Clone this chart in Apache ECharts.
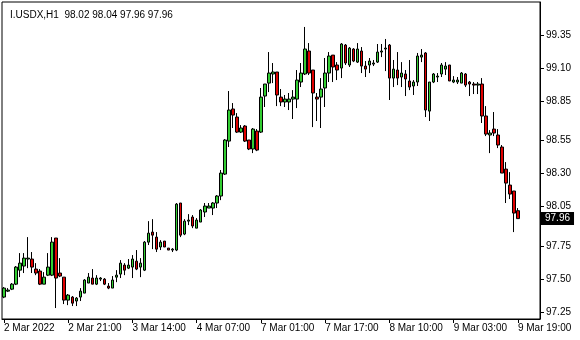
<!DOCTYPE html>
<html><head><meta charset="utf-8">
<script src="https://cdn.jsdelivr.net/npm/echarts@6/dist/echarts.min.js"></script>
<style>html,body{margin:0;padding:0;background:#fff}#c{width:580px;height:340px}</style>
</head><body><div id="c"></div>
<script>
const titleText = "I.USDX,H1  98.02 98.04 97.96 97.96";
const timeLabels = ["2 Mar 2022","2 Mar 21:00","3 Mar 14:00","4 Mar 07:00","7 Mar 01:00","7 Mar 17:00","8 Mar 10:00","9 Mar 03:00","9 Mar 19:00"];
const priceTicks = [97.25,97.50,97.75,98.05,98.30,98.55,98.85,99.10,99.35];
const lastPrice = 97.96;

const open = [97.366,97.411,97.426,97.464,97.570,97.601,97.654,97.654,97.578,97.563,
97.464,97.532,97.532,97.813,97.548,97.517,97.343,97.366,97.336,97.366,
97.396,97.472,97.510,97.464,97.502,97.502,97.449,97.434,97.517,97.540,
97.608,97.585,97.593,97.638,97.593,97.570,97.782,97.858,97.820,97.745,
97.790,97.737,97.722,97.722,98.078,97.843,97.941,97.972,97.888,97.934,
98.010,98.040,98.040,98.078,98.131,98.297,98.547,98.790,98.729,98.615,
98.661,98.555,98.487,98.623,98.615,98.888,98.986,99.055,99.070,98.880,
98.843,98.843,98.865,98.865,98.994,99.055,99.229,99.085,98.880,98.880,
98.949,99.062,99.198,99.123,99.100,99.274,99.123,99.244,99.145,99.229,
99.115,99.123,99.130,99.145,99.221,99.244,99.274,99.024,99.085,99.032,
99.055,99.002,98.964,98.994,99.183,99.214,98.774,98.994,99.032,99.055,
99.092,99.123,98.994,98.994,98.986,99.055,98.994,98.979,98.971,98.979,
98.737,98.593,98.638,98.593,98.502,98.335,98.214,98.169,98.02];
const high = [97.442,97.434,97.472,97.601,97.699,97.699,97.820,97.707,97.623,97.578,
97.555,97.699,97.820,97.813,97.661,97.517,97.389,97.374,97.366,97.434,
97.502,97.548,97.578,97.532,97.517,97.510,97.472,97.525,97.570,97.646,
97.623,97.654,97.684,97.722,97.661,97.790,97.941,97.956,97.858,97.797,
97.790,97.737,97.737,98.078,98.078,97.956,97.994,97.987,97.964,98.032,
98.078,98.078,98.085,98.138,98.328,98.562,98.926,98.835,98.759,98.668,
98.668,98.555,98.646,98.638,98.949,98.979,99.221,99.138,99.070,98.941,
98.896,98.911,98.933,99.085,99.138,99.411,99.289,99.085,98.911,99.024,
99.176,99.221,99.198,99.145,99.289,99.282,99.259,99.251,99.289,99.259,
99.153,99.176,99.161,99.282,99.282,99.320,99.282,99.161,99.221,99.145,
99.085,99.161,99.009,99.214,99.244,99.221,98.994,99.062,99.062,99.138,
99.145,99.123,99.039,99.032,99.070,99.062,99.002,98.994,98.994,99.024,
98.812,98.630,98.767,98.638,98.517,98.388,98.312,98.169,98.04];
const low = [97.358,97.404,97.419,97.457,97.517,97.548,97.585,97.548,97.532,97.457,
97.464,97.525,97.525,97.283,97.517,97.313,97.305,97.298,97.298,97.336,
97.396,97.472,97.464,97.457,97.487,97.457,97.426,97.434,97.479,97.510,
97.532,97.578,97.510,97.570,97.517,97.563,97.760,97.729,97.707,97.722,
97.745,97.722,97.707,97.714,97.820,97.835,97.911,97.888,97.888,97.934,
97.972,98.040,97.987,98.040,98.100,98.290,98.502,98.646,98.608,98.608,
98.540,98.479,98.456,98.471,98.608,98.805,98.918,98.986,98.812,98.812,
98.805,98.782,98.714,98.797,98.956,99.047,99.047,98.653,98.699,98.646,
98.805,98.994,98.994,99.009,99.024,99.123,99.108,99.145,99.138,99.062,
99.032,99.062,99.115,99.138,99.183,99.077,98.858,98.956,98.971,98.956,
98.888,98.933,98.896,98.964,99.145,98.729,98.699,98.986,98.994,99.032,
99.047,99.002,98.986,98.979,98.986,98.956,98.888,98.903,98.903,98.684,
98.585,98.456,98.585,98.494,98.305,98.078,98.108,97.858,97.96];
const close = [97.434,97.419,97.464,97.593,97.623,97.661,97.661,97.593,97.548,97.464,
97.517,97.593,97.782,97.510,97.525,97.343,97.381,97.320,97.358,97.411,
97.495,97.517,97.464,97.510,97.510,97.464,97.434,97.495,97.532,97.623,
97.570,97.608,97.654,97.578,97.623,97.782,97.850,97.835,97.729,97.782,
97.745,97.722,97.729,98.070,97.835,97.941,97.949,97.904,97.949,98.025,
98.055,98.055,98.078,98.131,98.305,98.555,98.782,98.744,98.615,98.646,
98.547,98.487,98.638,98.479,98.880,98.979,99.062,99.070,98.896,98.843,
98.865,98.865,98.880,99.009,99.062,99.244,99.062,98.911,98.865,98.941,
99.062,99.191,99.108,99.085,99.282,99.138,99.251,99.153,99.244,99.115,
99.092,99.153,99.138,99.221,99.229,99.251,99.024,99.092,99.024,99.062,
99.017,98.956,98.994,99.191,99.198,98.782,98.994,99.055,99.039,99.123,
99.115,99.002,99.009,99.009,99.062,98.971,98.979,98.971,98.979,98.737,
98.600,98.608,98.608,98.517,98.305,98.229,98.146,98.002,97.96];

const slots = 134;        // bar slots incl. right-side chart shift
const labelEvery = 16;
const categories = Array.from({length: slots}, (_, i) => String(i));
const candles = open.map((o, i) => [o, close[i], low[i], high[i]]);
const isLabelIdx = (i) => i % labelEvery === 0 && i / labelEvery < timeLabels.length;
const FONT = 'Liberation Sans';

const chart = echarts.init(document.getElementById('c'), null, {renderer: 'canvas'});
chart.setOption({
  animation: false,
  backgroundColor: '#ffffff',
  title: {
    text: titleText, left: 5, top: 5,
    textStyle: {fontFamily: FONT, fontSize: 10, fontWeight: 'normal', color: '#000'}
  },
  grid: {left: 2, right: 40, top: 2, bottom: 21, show: true, borderColor: '#000', borderWidth: 1, backgroundColor: 'transparent'},
  xAxis: {
    type: 'category', data: categories, boundaryGap: true,
    axisLine: {show: true, lineStyle: {color: '#000', width: 1}},
    axisTick: {show: true, alignWithLabel: true, length: 4, interval: (i) => isLabelIdx(i), lineStyle: {color: '#000'}},
    axisLabel: {
      show: true, interval: (i) => isLabelIdx(i), align: 'left', margin: 4,
      fontFamily: FONT, fontSize: 10, color: '#000',
      formatter: (v, i) => isLabelIdx(i) ? timeLabels[i / labelEvery] : ''
    },
    splitLine: {show: false}
  },
  yAxis: {
    type: 'value', position: 'right', min: 97.20, max: 99.60, scale: true,
    axisLine: {show: true, lineStyle: {color: '#000', width: 1}},
    axisTick: {show: true, inside: false, length: 4, customValues: priceTicks, lineStyle: {color: '#000'}},
    axisLabel: {show: true, margin: 6, customValues: priceTicks, fontFamily: FONT, fontSize: 10, color: '#000',
      formatter: (v) => v.toFixed(2)},
    splitLine: {show: false}
  },
  series: [{
    type: 'candlestick',
    data: candles,
    barWidth: 3,
    itemStyle: {color: '#32cd32', color0: '#e00000', borderColor: '#000', borderColor0: '#000', borderWidth: 1},
    markLine: {
      silent: true, symbol: 'none',
      lineStyle: {color: 'rgba(0,0,0,0)', width: 1, type: 'solid'},
      label: {
        show: true, position: 'end', distance: 1,
        formatter: () => lastPrice.toFixed(2),
        backgroundColor: '#000', color: '#fff', padding: [2, 4, 1, 4],
        fontFamily: FONT, fontSize: 10
      },
      data: [{yAxis: lastPrice}]
    }
  }]
});
</script></body></html>
